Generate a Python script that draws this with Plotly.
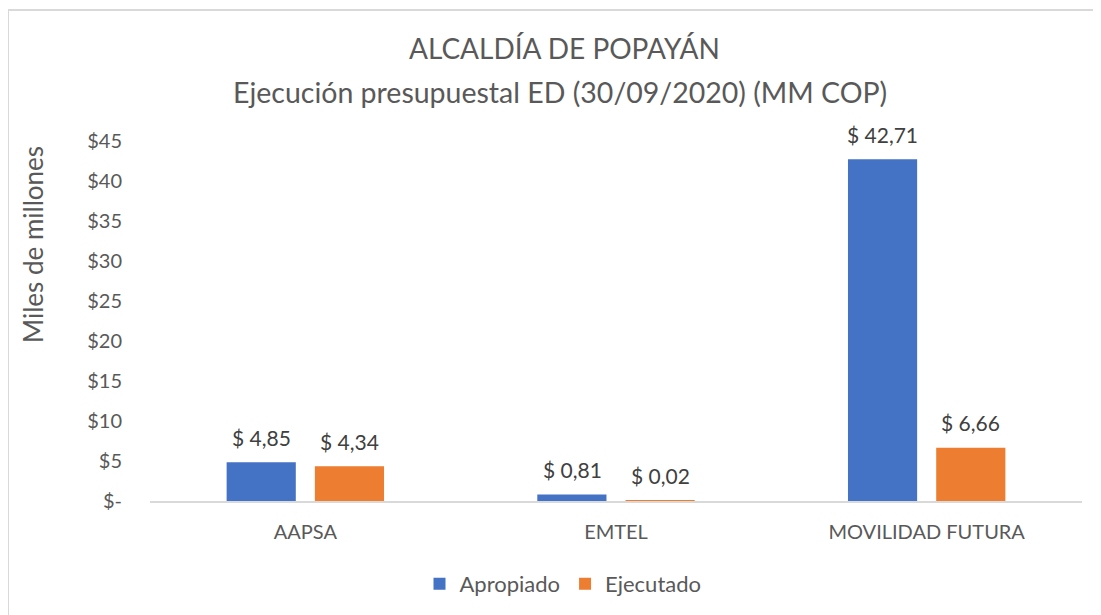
import plotly.graph_objects as go

categories = ["AAPSA", "EMTEL", "MOVILIDAD FUTURA"]
apropiado = [4.85, 0.81, 42.71]
ejecutado = [4.34, 0.02, 6.66]
tick_vals = [0, 5, 10, 15, 20, 25, 30, 35, 40, 45]
tick_text = ["$-", "$5", "$10", "$15", "$20", "$25", "$30", "$35", "$40", "$45"]

FONT = "Lato"
TXT = "#595959"
LBL = "#404040"

def fmt(v):
    return "$ " + f"{v:.2f}".replace(".", ",")

fig = go.Figure()
fig.add_trace(go.Bar(name="Apropiado", x=categories, y=apropiado,
                     marker=dict(color="#4472C4", line=dict(width=0))))
fig.add_trace(go.Bar(name="Ejecutado", x=categories, y=ejecutado,
                     marker=dict(color="#ED7D31", line=dict(width=0))))

# data labels
for vals, dx in ((apropiado, -44), (ejecutado, 44)):
    for c, v in zip(categories, vals):
        fig.add_annotation(x=c, y=v, text=fmt(v), showarrow=False, xshift=dx, yshift=25,
                           xanchor="center", yanchor="middle",
                           font=dict(size=21, color=LBL, family=FONT))

# plot area domain in figure pixels: x 142..1074, y 133..493
W = 932.0
H = 360.0
L0 = 142.0
B0 = 493.0

def px(x):
    return (x - L0) / W

def py(y):
    return (B0 - y) / H

fig.update_layout(
    width=1101, height=615,
    margin=dict(l=142, r=27, t=133, b=122),
    paper_bgcolor="white", plot_bgcolor="white",
    barmode="group", bargap=0.432, bargroupgap=0.216,
    font=dict(family=FONT, color=TXT, size=18),
    showlegend=True,
    legend=dict(orientation="h", x=px(555), xanchor="center", y=py(576), yanchor="middle",
                font=dict(size=22, color=TXT, family=FONT),
                traceorder="normal"),
    xaxis=dict(showline=True, linecolor="#D9D9D9", linewidth=2, showgrid=False,
               ticks="", tickfont=dict(size=20, color=TXT), ticklabelstandoff=12),
    yaxis=dict(range=[0, 45], tickvals=tick_vals, ticktext=tick_text, showgrid=False,
               zeroline=False, showline=False, ticks="",
               tickfont=dict(size=20, color=TXT), ticklabelstandoff=27),
)

fig.add_annotation(text="ALCALDÍA DE POPAYÁN", xref="paper", yref="paper",
                   x=px(556), y=py(40), xanchor="center", yanchor="middle",
                   showarrow=False, font=dict(size=28, color=TXT, family=FONT))
fig.add_annotation(text="Ejecución presupuestal ED (30/09/2020) (MM COP)", xref="paper", yref="paper",
                   x=px(552), y=py(84), xanchor="center", yanchor="middle",
                   showarrow=False, font=dict(size=28.5, color=TXT, family=FONT))

fig.add_annotation(text="Miles de millones", textangle=-90, xref="paper", yref="paper",
                   x=px(25), y=py(236), xanchor="center", yanchor="middle",
                   showarrow=False, font=dict(size=26, color=TXT, family=FONT))

fig.add_shape(type="rect", xref="paper", yref="paper",
              x0=px(0), x1=1.1, y0=-0.5, y1=py(2),
              line=dict(color="#D9D9D9", width=2), fillcolor="rgba(0,0,0,0)", layer="below")

fig.write_html("out.html")
